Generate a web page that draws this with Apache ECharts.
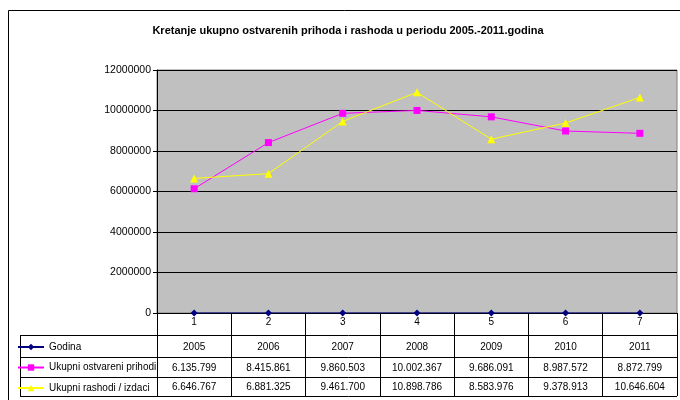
<!DOCTYPE html>
<html>
<head>
<meta charset="utf-8">
<script src="https://cdn.jsdelivr.net/npm/echarts@6/dist/echarts.min.js"></script>
<style>
  html, body { margin: 0; padding: 0; background: #fff; }
  #chart { width: 680px; height: 400px; }
</style>
</head>
<body>
<div id="chart"></div>
<script>
const categories = ["1", "2", "3", "4", "5", "6", "7"];
const godina = [2005, 2006, 2007, 2008, 2009, 2010, 2011];
const prihodi = [6135799, 8415861, 9860503, 10002367, 9686091, 8987572, 8872799];
const rashodi = [6646767, 6881325, 9461700, 10898786, 8583976, 9378913, 10646604];
const yTicks = { min: 0, max: 12000000, interval: 2000000 };

const FONT = "Liberation Sans, Arial, sans-serif";

// 10002367 -> "10.002.367"
const dots = (v) => String(v).replace(/\B(?=(\d{3})+(?!\d))/g, ".");

// Plot/table layout
const plot = { left: 157, right: 3, top: 70, bottom: 87 };
const tableLeft = 20;
const tableRight = 677;
const rowLines = [335, 357, 377, 396];

// extra category axes that act as table rows
const rowAxis = (data, offset) => ({
  type: "category",
  data: data,
  position: "bottom",
  offset: offset,
  axisLine: { show: false },
  axisTick: { show: false },
  axisLabel: { margin: 0, color: "#000", fontSize: 10, fontFamily: FONT },
});

const option = {
  animation: false,
  title: {
    text: "Kretanje ukupno ostvarenih prihoda i rashoda u periodu 2005.-2011.godina",
    left: 343,
    textAlign: "center",
    top: 20,
    textStyle: { fontSize: 11, fontWeight: "bold", color: "#000", fontFamily: FONT },
  },
  legend: {
    orient: "vertical",
    left: 17,
    top: 341,
    height: 60,
    padding: 0,
    itemWidth: 26,
    itemHeight: 8,
    itemGap: 8.5,
    textStyle: { fontSize: 10, color: "#000", fontFamily: FONT, lineHeight: 12 },
    data: ["Godina", "Ukupni ostvareni prihodi", "Ukupni rashodi / izdaci"],
  },
  grid: {
    left: plot.left,
    right: plot.right,
    top: plot.top,
    bottom: plot.bottom,
    show: true,
    backgroundColor: "#C0C0C0",
    borderColor: "#808080",
    borderWidth: 1,
  },
  xAxis: [
    {
      type: "category",
      data: categories,
      position: "bottom",
      axisLine: { lineStyle: { color: "#000", width: 1 } },
      axisTick: { show: true, length: 83, lineStyle: { color: "#000", width: 1 } },
      axisLabel: { margin: 4, color: "#000", fontSize: 10, fontFamily: FONT },
    },
    rowAxis(godina.map(String), 29),
    rowAxis(prihodi.map(dots), 50),
    rowAxis(rashodi.map(dots), 69.5),
  ],
  yAxis: {
    type: "value",
    min: yTicks.min,
    max: yTicks.max,
    interval: yTicks.interval,
    axisLine: { show: true, lineStyle: { color: "#000", width: 1 } },
    axisTick: { show: true, length: 4, lineStyle: { color: "#000" } },
    axisLabel: {
      margin: 6,
      color: "#000",
      fontSize: 10.5,
      fontFamily: FONT,
      formatter: (v) => String(v),
    },
    splitLine: { show: true, lineStyle: { color: "#000", width: 1 } },
  },
  series: [
    {
      name: "Godina",
      type: "line",
      data: godina,
      symbol: "diamond",
      symbolSize: 7,
      lineStyle: { color: "#000080", width: 1 },
      itemStyle: { color: "#000080" },
    },
    {
      name: "Ukupni ostvareni prihodi",
      type: "line",
      data: prihodi,
      symbol: "rect",
      symbolSize: 7,
      lineStyle: { color: "#FF00FF", width: 1 },
      itemStyle: { color: "#FF00FF" },
    },
    {
      name: "Ukupni rashodi / izdaci",
      type: "line",
      data: rashodi,
      symbol: "triangle",
      symbolSize: 8,
      lineStyle: { color: "#FFFF00", width: 1 },
      itemStyle: { color: "#FFFF00" },
    },
  ],
  graphic: [
    // outer chart border (left and top edges only are visible)
    {
      type: "polyline",
      shape: { points: [[8.5, 400], [8.5, 10.5], [680, 10.5]] },
      style: { fill: null, stroke: "#000", lineWidth: 1 },
      silent: true,
    },
    // table left border
    {
      type: "line",
      shape: { x1: tableLeft + 0.5, y1: rowLines[0], x2: tableLeft + 0.5, y2: rowLines[3] },
      style: { stroke: "#000", lineWidth: 1 },
      silent: true,
    },
    // table row lines
    ...rowLines.map((y) => ({
      type: "line",
      shape: { x1: tableLeft, y1: y + 0.5, x2: tableRight, y2: y + 0.5 },
      style: { stroke: "#000", lineWidth: 1 },
      silent: true,
    })),
  ],
};

const myChart = echarts.init(document.getElementById("chart"));
myChart.setOption(option);
</script>
</body>
</html>
